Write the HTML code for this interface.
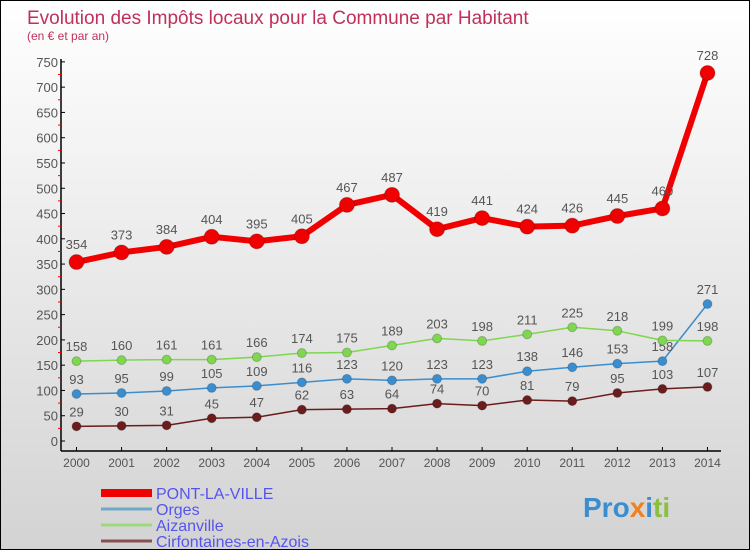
<!DOCTYPE html>
<html><head><meta charset="utf-8"><style>
body{margin:0}
#c{width:750px;height:550px;position:relative;overflow:hidden;box-sizing:border-box;border:1px solid #000;background:linear-gradient(#fff,#d3d3d3);font-family:"Liberation Sans",sans-serif}
svg text{font-family:"Liberation Sans",sans-serif}
</style></head><body>
<div id="c">
<svg id="s" width="750" height="550" style="position:absolute;left:0;top:0">
<text x="26" y="23" font-size="19" fill="#c0305a">Evolution des Impôts locaux pour la Commune par Habitant</text>
<text x="26" y="39" font-size="12" fill="#c0305a">(en € et par an)</text>
</svg>
</div>
<script>
const years=[2000,2001,2002,2003,2004,2005,2006,2007,2008,2009,2010,2011,2012,2013,2014];
const pont=[354,373,384,404,395,405,467,487,419,441,424,426,445,460,728];
const orges=[93,95,99,105,109,116,123,120,123,123,138,146,153,158,271];
const aizan=[158,160,161,161,166,174,175,189,203,198,211,225,218,199,198];
const cirf=[29,30,31,45,47,62,63,64,74,70,81,79,95,103,107];
const yTicks=[0,50,100,150,200,250,300,350,400,450,500,550,600,650,700,750];
const names=["PONT-LA-VILLE","Orges","Aizanville","Cirfontaines-en-Azois"];
const NS="http://www.w3.org/2000/svg",s=document.getElementById('s');
function X(i){return 75.5+i*45.07}
function Y(v){return 440-v*0.5055}
function el(t,a,p){const e=document.createElementNS(NS,t);for(const k in a)e.setAttribute(k,a[k]);(p||s).appendChild(e);return e}
let ax=el('line',{x1:60,y1:58,x2:60,y2:450,stroke:'#000','stroke-width':1.5});


let bx=el('line',{x1:60,y1:450,x2:720,y2:450,stroke:'#000','stroke-width':1.5});


yTicks.forEach((v,i)=>{
 el('line',{x1:60,x2:64,y1:Y(v),y2:Y(v),stroke:'#000'});
 if(i<yTicks.length-1)el('line',{x1:57,x2:60,y1:Y(v+25),y2:Y(v+25),stroke:'#f00'});
 const t=el('text',{x:57,y:Y(v)+5,'font-size':13,fill:'#555','text-anchor':'end'});t.textContent=v;
 
 
});
years.forEach((y,i)=>{
 el('line',{x1:X(i),x2:X(i),y1:446,y2:450,stroke:'#000'});
 const t=el('text',{x:X(i),y:466,'font-size':12,fill:'#555','text-anchor':'middle'});t.textContent=y;
 
 
});
function series(d,col,lw,r,name,lab){
 const g=el('g',{});
 
 
 el('polyline',{points:d.map((v,i)=>X(i)+','+Y(v)).join(' '),fill:'none',stroke:col,'stroke-width':lw,'stroke-linejoin':'round'},g);
 d.forEach((v,i)=>{
  const c=el('circle',{cx:X(i),cy:Y(v),r:r,fill:col,stroke:'rgba(0,0,0,0.2)','stroke-width':1},g);
  
  
  const t=el('text',{x:X(i),y:Y(v)-(lab||10),'font-size':13,fill:'#555','text-anchor':'middle'},g);t.textContent=v;
 });
}
series(cirf,'#6b1c1c',1.5,4.5,'series-cirfontaines');
series(orges,'#3a8ed0',1.5,4.5,'series-orges');
series(aizan,'#7fd650',1.5,4.5,'series-aizanville');
series(pont,'#f00000',6,7.5,'series-pont-la-ville',13);
const cols=['#f00000','#6fa8cc','#9ed87e','#8a5050'],lws=[8,3,3,3];
names.forEach((n,i)=>{
 const y=492+i*16;
 const l=el('line',{x1:100,x2:151,y1:y,y2:y,stroke:cols[i],'stroke-width':lws[i]});
 
 
 const t=el('text',{x:155,y:y+6,'font-size':16,fill:'#5555ee'});t.textContent=n;
 
 
});
const lg=el('text',{x:582,y:516,'font-size':28,'font-weight':'bold',fill:'#3a8ed0'});


lg.innerHTML='<tspan fill="#3a8ed0">Pro</tspan><tspan fill="#f08020">x</tspan><tspan fill="#3a8ed0">i</tspan><tspan fill="#8ac040">ti</tspan>';
</script>
</body></html>
